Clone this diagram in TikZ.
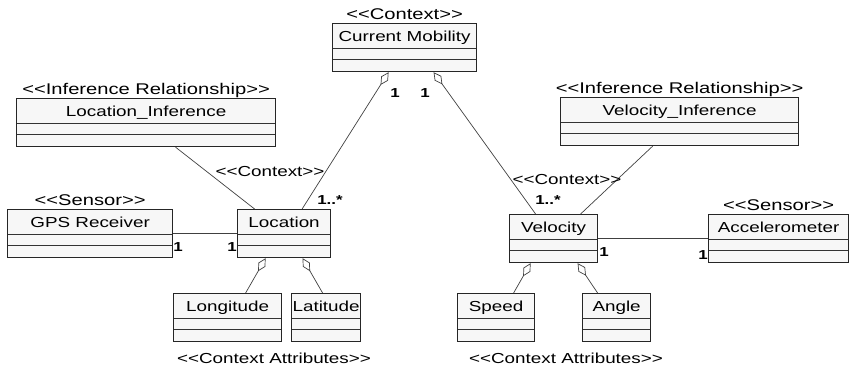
\documentclass[tikz,border=0pt]{standalone}
\usepackage{fontspec}
\setmainfont{Liberation Sans}[FakeStretch=1.3,Ligatures=TeXOff]
\usetikzlibrary{arrows.meta,positioning}

\begin{document}
\begin{tikzpicture}[x=1pt,y=-1pt,
    every node/.style={font=\fontsize{14.5}{16}\selectfont},
    umlclass/.style={draw=black!85,line width=1.2pt,fill=black!3,
      anchor=north west,inner xsep=0pt,inner ysep=0pt,
      text height=17.5pt,text depth=30.5pt,
      path picture={\draw[black!80,line width=0.8pt]
        ([yshift=12pt]path picture bounding box.south west) --
        ([yshift=12pt]path picture bounding box.south east)
        ([yshift=23pt]path picture bounding box.south west) --
        ([yshift=23pt]path picture bounding box.south east);}},
    stereo/.style={inner sep=0pt,text depth=0pt,anchor=south,
      font=\fontsize{15.5}{17}\selectfont},
    mult/.style={font=\fontsize{13}{14}\selectfont\bfseries,inner sep=0pt},
    assoc/.style={draw=black!75,line width=0.7pt},
    agg/.style={assoc,{Diamond[open,length=15pt,width=8pt]}-}]
  \useasboundingbox (0,0) rectangle (851,372);

  % classes
  \node[umlclass,minimum width=144pt] (cm) at (332,23) {Current Mobility};
  \node[umlclass,minimum width=259pt] (li) at (16,98) {Location\_Inference};
  \node[umlclass,minimum width=165pt] (gps) at (7,209) {GPS Receiver};
  \node[umlclass,minimum width=93pt] (loc) at (237,209) {Location};
  \node[umlclass,minimum width=108pt] (lon) at (173,293) {Longitude};
  \node[umlclass,minimum width=69pt] (lat) at (291,293) {Latitude};
  \node[umlclass,minimum width=238pt] (vi) at (560,97) {Velocity\_Inference};
  \node[umlclass,minimum width=88pt] (vel) at (509,214) {Velocity};
  \node[umlclass,minimum width=140pt] (acc) at (708,214) {Accelerometer};
  \node[umlclass,minimum width=77pt] (spd) at (457,293) {Speed};
  \node[umlclass,minimum width=68pt] (ang) at (582,293) {Angle};

  % stereotypes
  \node[stereo] (cmst) at ([yshift=3pt]cm.north) {<<Context>>};
  \node[stereo] (list) at ([yshift=3pt]li.north) {<<Inference Relationship>>};
  \node[stereo] (vist) at ([yshift=3pt]vi.north) {<<Inference Relationship>>};
  \node[stereo] (gpsst) at ([yshift=3pt]gps.north) {<<Sensor>>};
  \node[stereo] (accst) at ([yshift=3pt]acc.north) {<<Sensor>>};
  \node (locattr) at (274,358) {<<Context Attributes>>};
  \node (velattr) at (566,358) {<<Context Attributes>>};

  % links
  \draw[agg] ([xshift=-16pt]cm.south) -- ([xshift=18pt]loc.north);
  \draw[agg] ([xshift=29pt]cm.south) -- ([xshift=-18pt]vel.north);
  \draw[assoc] ([xshift=29.5pt]li.south) -- ([xshift=-29.5pt]loc.north);
  \draw[assoc] ([xshift=-27pt]vi.south) -- ([xshift=27pt]vel.north);
  \draw[assoc] (gps.east) -- (loc.west);
  \draw[assoc] (vel.east) -- (acc.west);
  \draw[agg] ([xshift=-18.5pt]loc.south) -- ([xshift=18pt]lon.north);
  \draw[agg] ([xshift=18.5pt]loc.south) -- ([xshift=-3.5pt]lat.north);
  \draw[agg] ([xshift=-23pt]vel.south) -- ([xshift=17.5pt]spd.north);
  \draw[agg] ([xshift=24pt]vel.south) -- ([xshift=-19pt]ang.north);

  % labels on links
  \node (lctx) at (270,172) {<<Context>>};
  \node (vctx) at (567,180) {<<Context>>};
  \node[mult] (m1) at (395,93) {1};
  \node[mult] (m2) at (425,93) {1};
  \node[mult] (m3) at (330,200) {1..*};
  \node[mult] (m4) at (548,200) {1..*};
  \node[mult] (m5) at (178,247) {1};
  \node[mult] (m6) at (232,247) {1};
  \node[mult] (m7) at (604,252) {1};
  \node[mult] (m8) at (703,255) {1};
\end{tikzpicture}
\end{document}
